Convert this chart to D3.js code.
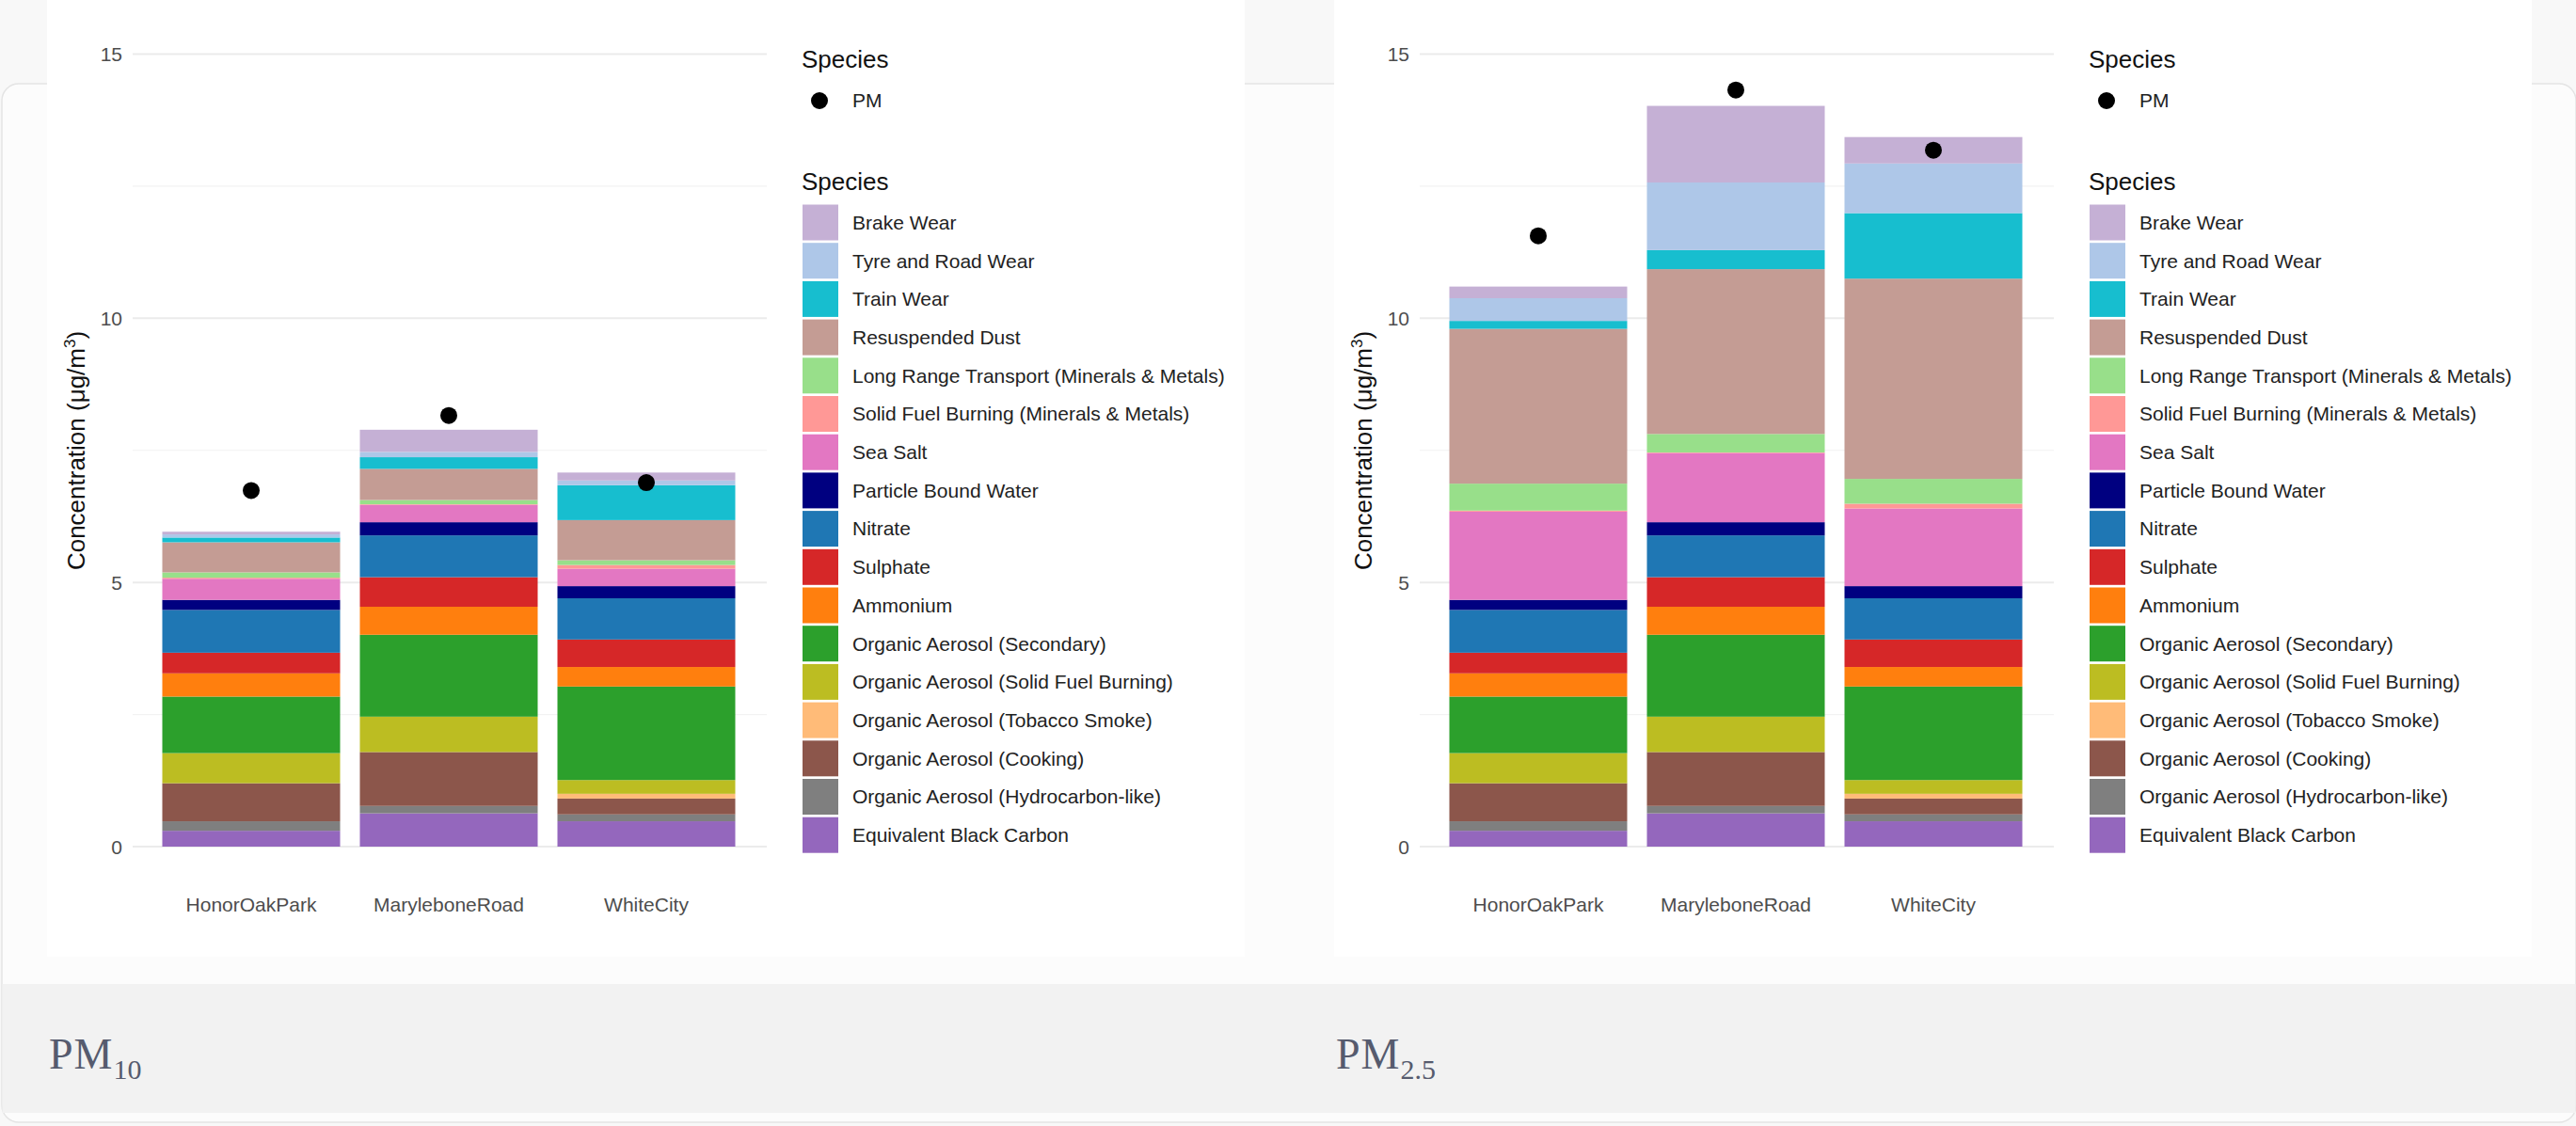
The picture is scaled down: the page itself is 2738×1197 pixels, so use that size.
<!DOCTYPE html>
<html><head><meta charset="utf-8">
<script src="https://cdn.jsdelivr.net/npm/d3@7"></script>
<style>html,body{margin:0;padding:0;background:#f8f8f8;} svg{display:block;}</style>
</head><body>
<svg id="chart" width="2738" height="1197"></svg>
<script>
// ---- data ----
const sites = ["HonorOakPark", "MaryleboneRoad", "WhiteCity"];
// stack order, bottom to top
const species = ["Equivalent Black Carbon", "Organic Aerosol (Hydrocarbon-like)", "Organic Aerosol (Cooking)",
  "Organic Aerosol (Tobacco Smoke)", "Organic Aerosol (Solid Fuel Burning)", "Organic Aerosol (Secondary)",
  "Ammonium", "Sulphate", "Nitrate", "Particle Bound Water", "Sea Salt",
  "Solid Fuel Burning (Minerals & Metals)", "Long Range Transport (Minerals & Metals)",
  "Resuspended Dust", "Train Wear", "Tyre and Road Wear", "Brake Wear"];
const speciesColors = ["#9467bd", "#7f7f7f", "#8c564b", "#ffbb78", "#bcbd22", "#2ca02c",
  "#ff7f0e", "#d62728", "#1f77b4", "#000080", "#e377c2", "#ff9896", "#98df8a",
  "#c49c94", "#17becf", "#aec7e8", "#c5b0d5"];
const yTicks = [0, 5, 10, 15];
const yMinorTicks = [2.5, 7.5, 12.5];

// left panel (captioned PM10)
const pm10HonorOakPark   = [0.30, 0.18, 0.72, 0.00, 0.57, 1.07, 0.44, 0.39, 0.81, 0.19, 0.40, 0.02, 0.10, 0.57, 0.09, 0.06, 0.05];
const pm10MaryleboneRoad = [0.63, 0.14, 1.02, 0.00, 0.67, 1.55, 0.53, 0.56, 0.79, 0.25, 0.33, 0.01, 0.08, 0.59, 0.22, 0.10, 0.42];
const pm10WhiteCity      = [0.48, 0.13, 0.30, 0.09, 0.26, 1.77, 0.37, 0.52, 0.78, 0.23, 0.33, 0.07, 0.09, 0.76, 0.66, 0.09, 0.15];
const pm10Measured = [6.74, 8.16, 6.89];

// right panel (captioned PM2.5)
const pm25HonorOakPark   = [0.30, 0.18, 0.72, 0.00, 0.57, 1.07, 0.44, 0.39, 0.81, 0.19, 1.67, 0.02, 0.51, 2.93, 0.15, 0.43, 0.22];
const pm25MaryleboneRoad = [0.63, 0.14, 1.02, 0.00, 0.67, 1.55, 0.53, 0.56, 0.79, 0.25, 1.31, 0.01, 0.35, 3.12, 0.36, 1.28, 1.45];
const pm25WhiteCity      = [0.48, 0.13, 0.30, 0.09, 0.26, 1.77, 0.37, 0.52, 0.78, 0.23, 1.47, 0.09, 0.47, 3.79, 1.24, 0.94, 0.50];
const pm25Measured = [11.56, 14.32, 13.18];

const legendTitle = "Species";
const pointLabel = "PM";

// ---- drawing ----
const svg = d3.select("#chart");
const W = 2738, H = 1197;

// page card
svg.append("rect").attr("x", 0).attr("y", 0).attr("width", W).attr("height", H).attr("fill", "#f8f8f8");
svg.append("rect").attr("x", 2).attr("y", 89).attr("width", W - 2).attr("height", 1104)
  .attr("rx", 18).attr("fill", "#fcfcfc").attr("stroke", "#e4e4e4").attr("stroke-width", 1.5);
svg.append("rect").attr("x", 2.5).attr("y", 1046).attr("width", W - 3).attr("height", 137).attr("fill", "#f2f2f2");

const color = d3.scaleOrdinal().domain(species).range(speciesColors);

function drawPanel(offsetX, rowsBySite, measured, capMain, capSub) {
  const g = svg.append("g").attr("transform", `translate(${offsetX},0)`);
  // white chart image
  g.append("rect").attr("x", 50).attr("y", 0).attr("width", 1273).attr("height", 1017).attr("fill", "#ffffff");

  const x = d3.scaleBand().domain(sites).range([141, 813]).paddingInner(0.1).paddingOuter(0.15);
  const y = d3.scaleLinear().domain([0, 15]).range([900, 57.5]);

  // grid
  g.append("g").selectAll("line").data(yMinorTicks).join("line")
    .attr("x1", 141).attr("x2", 815).attr("y1", d => y(d)).attr("y2", d => y(d))
    .attr("stroke", "#f2f2f2").attr("stroke-width", 1.2);
  g.append("g").selectAll("line").data(yTicks).join("line")
    .attr("x1", 141).attr("x2", 815).attr("y1", d => y(d)).attr("y2", d => y(d))
    .attr("stroke", "#ebebeb").attr("stroke-width", 2);

  // stacked bars
  const rows = sites.map((s, i) => {
    const r = { site: s };
    species.forEach((sp, j) => r[sp] = rowsBySite[i][j]);
    return r;
  });
  const stacked = d3.stack().keys(species)(rows);
  g.append("g").selectAll("g").data(stacked).join("g")
    .attr("fill", d => color(d.key))
    .selectAll("rect").data(d => d).join("rect")
    .attr("x", d => x(d.data.site))
    .attr("width", x.bandwidth())
    .attr("y", d => y(d[1]))
    .attr("height", d => Math.max(0, y(d[0]) - y(d[1])));

  // measured PM points
  g.append("g").selectAll("circle").data(measured).join("circle")
    .attr("cx", (d, i) => x(sites[i]) + x.bandwidth() / 2)
    .attr("cy", d => y(d)).attr("r", 9).attr("fill", "#000");

  // y axis
  const yAxis = d3.axisLeft(y).tickValues(yTicks).tickSize(0).tickPadding(0).tickFormat(d3.format("d"));
  const ya = g.append("g").attr("transform", "translate(130,0)").call(yAxis);
  ya.select(".domain").remove();
  ya.selectAll("text").attr("font-family", "Liberation Sans, Arial, sans-serif")
    .attr("font-size", 21).attr("fill", "#4d4d4d").attr("dy", "0.35em");

  // x axis
  const xAxis = d3.axisBottom(x).tickSize(0).tickPadding(0);
  const xa = g.append("g").attr("transform", "translate(0,962)").call(xAxis);
  xa.select(".domain").remove();
  xa.selectAll("text").attr("font-family", "Liberation Sans, Arial, sans-serif")
    .attr("font-size", 21).attr("fill", "#4d4d4d").attr("dy", "0.35em");

  // y title
  const yt = g.append("text").attr("transform", "translate(90,479) rotate(-90)")
    .attr("text-anchor", "middle").attr("font-family", "Liberation Sans, Arial, sans-serif")
    .attr("font-size", 26).attr("fill", "#111");
  yt.append("tspan").text("Concentration (μg/m");
  yt.append("tspan").attr("font-size", 17).attr("dy", -10).text("3");
  yt.append("tspan").attr("dy", 10).text(")");

  // legend
  const lg = g.append("g").attr("font-family", "Liberation Sans, Arial, sans-serif");
  lg.append("text").attr("x", 852).attr("y", 63).attr("dy", "0.35em").attr("font-size", 26).attr("fill", "#111").text(legendTitle);
  lg.append("circle").attr("cx", 871).attr("cy", 107).attr("r", 9).attr("fill", "#000");
  lg.append("text").attr("x", 906).attr("y", 107).attr("dy", "0.35em").attr("font-size", 21).attr("fill", "#222").text(pointLabel);
  lg.append("text").attr("x", 852).attr("y", 193).attr("dy", "0.35em").attr("font-size", 26).attr("fill", "#111").text(legendTitle);
  const legendOrder = species.slice().reverse();
  const items = lg.selectAll("g.item").data(legendOrder).join("g").attr("class", "item")
    .attr("transform", (d, i) => `translate(0,${236.5 + i * 40.7})`);
  items.append("rect").attr("x", 853).attr("y", -19).attr("width", 38).attr("height", 38)
    .attr("fill", d => color(d));
  items.append("text").attr("x", 906).attr("y", 0).attr("dy", "0.35em").attr("font-size", 21)
    .attr("fill", "#222").text(d => d);

  // caption
  const cap = g.append("text").attr("x", 52).attr("y", 1136)
    .attr("font-family", "Liberation Serif, Times New Roman, serif").attr("fill", "#565b6e");
  cap.append("tspan").attr("font-size", 46).attr("letter-spacing", 1).text(capMain);
  cap.append("tspan").attr("font-size", 30).attr("dy", 11).text(capSub);
}

drawPanel(0, [pm10HonorOakPark, pm10MaryleboneRoad, pm10WhiteCity], pm10Measured, "PM", "10");
drawPanel(1368, [pm25HonorOakPark, pm25MaryleboneRoad, pm25WhiteCity], pm25Measured, "PM", "2.5");
</script>
</body></html>
